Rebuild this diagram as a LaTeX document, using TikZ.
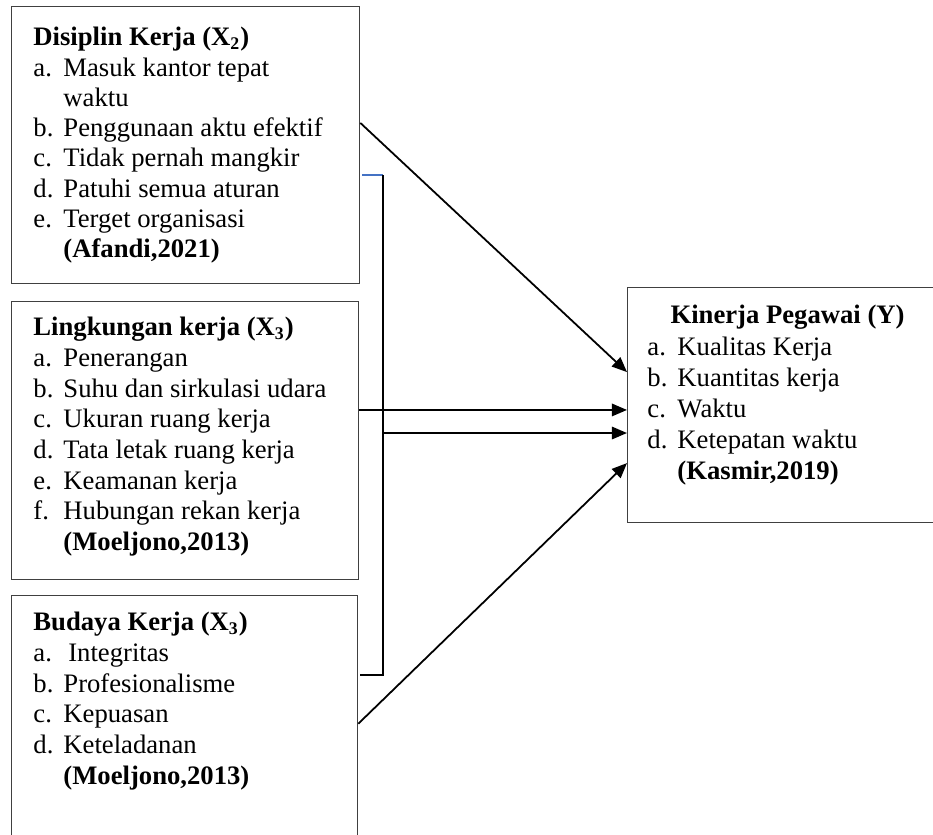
\documentclass[tikz,border=0pt]{standalone}
\usepackage{fontspec}
\setmainfont{Liberation Serif}
\usetikzlibrary{arrows.meta,calc}

\newcommand{\lbl}[1]{\makebox[13.5pt][l]{#1}}

\begin{document}
\begin{tikzpicture}[x=0.45pt, y=-0.45pt,
    box/.style={draw=black!75, line width=0.6pt, rectangle, inner sep=0pt, anchor=north west},
    txt/.style={align=left, inner sep=0pt, anchor=north west, font=\fontsize{12}{13.8}\selectfont},
    arr/.style={line width=0.8pt, -{Triangle[length=6.8pt, width=5.6pt]}}]
        \useasboundingbox (0,0) rectangle (933,834);
        \clip (0,0) rectangle (933,834);

        %frames
        \node[box, minimum width=348*0.45pt, minimum height=277*0.45pt] (x2) at (11,6) {};
        \node[box, minimum width=347*0.45pt, minimum height=278*0.45pt] (x3a) at (11,301) {};
        \node[box, minimum width=346*0.45pt, minimum height=256*0.45pt] (x3b) at (11,595) {};
        \node[box, minimum width=320*0.45pt, minimum height=235*0.45pt] (y) at (627,287) {};

        %texts
        \node[txt, font=\fontsize{12}{13.6}\selectfont] (x2t) at (33,27) {\textbf{Disiplin Kerja (X\textsubscript{2})}\\
            \lbl{a.}Masuk kantor tepat\\
            \lbl{}waktu\\
            \lbl{b.}Penggunaan aktu efektif\\
            \lbl{c.}Tidak pernah mangkir\\
            \lbl{d.}Patuhi semua aturan\\
            \lbl{e.}Terget organisasi\\
            \lbl{}\textbf{(Afandi,2021)}};

        \node[txt] (x3at) at (33,317) {\textbf{Lingkungan kerja (X\textsubscript{3})}\\
            \lbl{a.}Penerangan\\
            \lbl{b.}Suhu dan sirkulasi udara\\
            \lbl{c.}Ukuran ruang kerja\\
            \lbl{d.}Tata letak ruang kerja\\
            \lbl{e.}Keamanan kerja\\
            \lbl{f.}Hubungan rekan kerja\\
            \lbl{}\textbf{(Moeljono,2013)}};

        \node[txt] (x3bt) at (33,612) {\textbf{Budaya Kerja (X\textsubscript{3})}\\
            \lbl{a.}\hspace*{2.2pt}Integritas\\
            \lbl{b.}Profesionalisme\\
            \lbl{c.}Kepuasan\\
            \lbl{d.}Keteladanan\\
            \lbl{}\textbf{(Moeljono,2013)}};

        \node[txt, font=\fontsize{12}{14}\selectfont] (yt) at (647,305) {\hspace*{10.4pt}\textbf{Kinerja Pegawai (Y)}\\
            \lbl{a.}Kualitas Kerja\\
            \lbl{b.}Kuantitas kerja\\
            \lbl{c.}Waktu\\
            \lbl{d.}Ketepatan waktu\\
            \lbl{}\textbf{(Kasmir,2019)}};

        %bracket
        \coordinate (brk_tl) at (362,175);
        \coordinate (brk_t) at (383,175);
        \coordinate (brk_b) at (383,675);
        \coordinate (brk_bl) at (360,675);
        \draw[color={rgb,255:red,68;green,114;blue,196}, line width=0.5pt] (brk_tl) -- (brk_t);
        \draw[line width=0.8pt] (brk_t) -- (brk_b) -- (brk_bl);

        %X2 to Y
        \draw[arr] ($(x2.north east)!0.42!(x2.south east)$) -- ($(y.north west)!0.36!(y.south west)$);

        %X3a to Y
        \draw[arr] ($(x3a.north east)!0.39!(x3a.south east)$) coordinate (p1) -- (p1 -| y.west);

        %bracket to Y
        \draw[arr] ($(brk_t)!0.516!(brk_b)$) coordinate (p2) -- (p2 -| y.west);

        %X3b to Y
        \draw[arr] (x3b.east) -- ($(y.north west)!0.745!(y.south west)$);
    \end{tikzpicture}
\end{document}
